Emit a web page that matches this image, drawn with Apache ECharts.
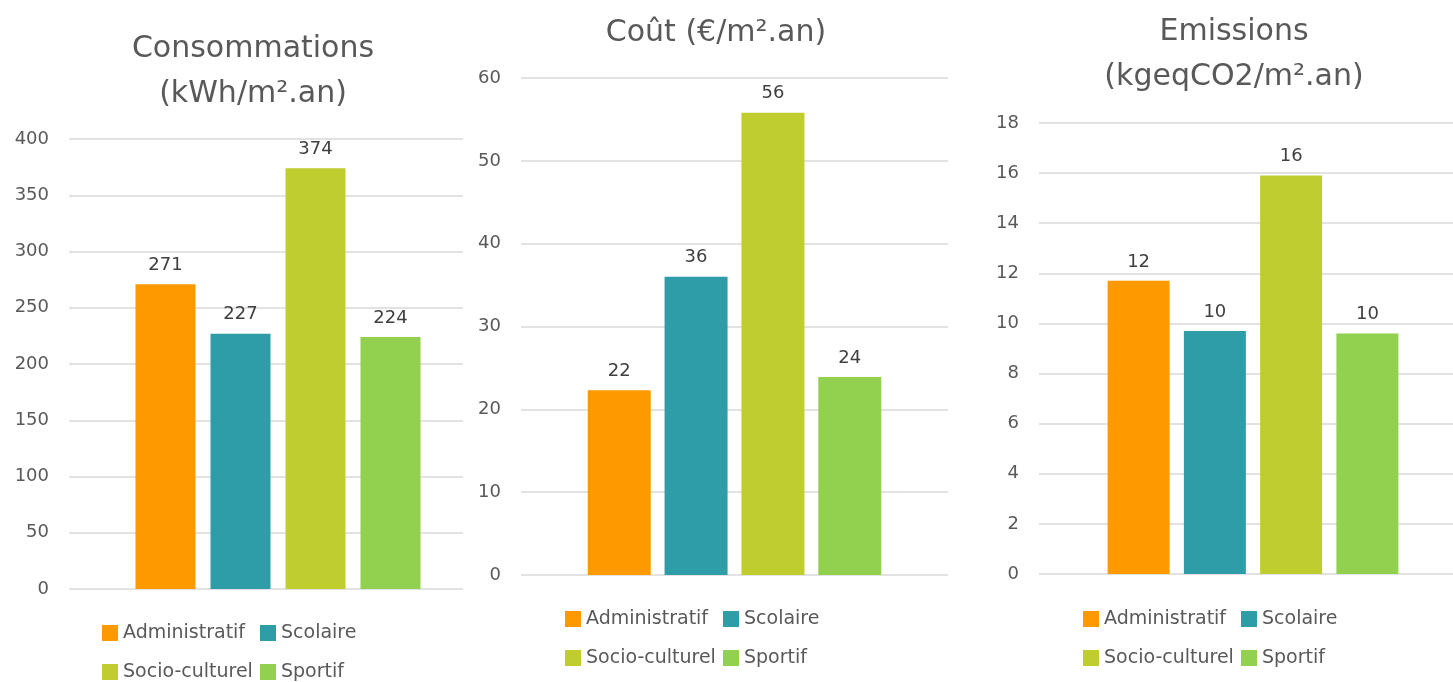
<!DOCTYPE html>
<html>
<head>
<meta charset="utf-8">
<script src="https://cdn.jsdelivr.net/npm/echarts@6/dist/echarts.min.js"></script>
<style>
  html, body { margin: 0; padding: 0; background: #fff; }
  #main { width: 1453px; height: 682px; }
</style>
</head>
<body>
<div id="main"></div>
<script>
// données
var typesBatiment = ['Administratif', 'Scolaire', 'Socio-culturel', 'Sportif'];
var couleurs = ['#FF9900', '#2E9DA7', '#C0CD2E', '#92D050'];
var consommations = [271, 227, 374, 224];   // kWh/m².an
var couts = [22.3, 36.0, 55.8, 23.9];        // €/m².an
var emissions = [11.7, 9.7, 15.9, 9.6];      // kgeqCO2/m².an
var titres = ['Consommations\n(kWh/m².an)', 'Coût (€/m².an)', 'Emissions\n(kgeqCO2/m².an)'];
var axeConso = { min: 0, max: 400, interval: 50 };
var axeCout = { min: 0, max: 60, interval: 10 };
var axeEmis = { min: 0, max: 18, interval: 2 };

var police = '"DejaVu Sans", sans-serif';
var gris = '#595959';

function axeY(gridIndex, cfg, visible) {
    return {
        type: 'value',
        gridIndex: gridIndex,
        min: cfg.min, max: cfg.max, interval: cfg.interval,
        show: visible,
        axisLine: { show: false },
        axisTick: { show: false },
        axisLabel: { color: gris, fontSize: 18, fontFamily: police, margin: 20 },
        splitLine: { show: visible, lineStyle: { color: '#D9D9D9', width: 1.5 } }
    };
}

function axeX(gridIndex) {
    return {
        type: 'category',
        gridIndex: gridIndex,
        data: [''],
        show: false
    };
}

function series(valeurs, axisIndex, largeur, ecart) {
    return typesBatiment.map(function (nom, i) {
        return {
            name: nom,
            type: 'bar',
            xAxisIndex: axisIndex,
            yAxisIndex: axisIndex,
            barWidth: largeur,
            barGap: ecart,
            itemStyle: { color: couleurs[i] },
            label: {
                show: true,
                position: 'top',
                distance: 10,
                color: '#404040',
                fontSize: 18,
                fontFamily: police,
                formatter: function (p) { return Math.round(p.value); }
            },
            data: [valeurs[i]]
        };
    });
}

// une légende par élément pour garder les colonnes alignées
function legendes(x, y) {
    var pos = [[0, 0], [158, 0], [0, 39], [158, 39]];
    return typesBatiment.map(function (nom, i) {
        return {
            left: x + pos[i][0],
            top: y + pos[i][1],
            padding: 0,
            icon: 'rect',
            itemWidth: 16,
            itemHeight: 16,
            selectedMode: false,
            textStyle: { color: gris, fontSize: 19, fontFamily: police, lineHeight: 20 },
            data: [nom]
        };
    });
}

function titre(texte, x, y) {
    return {
        text: texte,
        left: x,
        top: y,
        textAlign: 'center',
        textStyle: { color: gris, fontSize: 30, fontWeight: 'normal', fontFamily: police, lineHeight: 45 }
    };
}

var chart = echarts.init(document.getElementById('main'));
chart.setOption({
    backgroundColor: '#fff',
    animation: false,
    title: [
        titre(titres[0], 248, 22),
        titre(titres[1], 711, 6),
        titre(titres[2], 1229, 5)
    ],
    legend: [].concat(legendes(102, 623), legendes(565, 609), legendes(1083, 609)),
    grid: [
        { left: 69, top: 139, width: 394, height: 450 },   // lignes du graphe 1
        { left: 69, top: 139, width: 418, height: 450 },   // barres du graphe 1
        { left: 521, top: 78, width: 427, height: 497 },
        { left: 1039, top: 123, width: 414, height: 451 }, // lignes du graphe 3
        { left: 1053, top: 123, width: 400, height: 451 }  // barres du graphe 3
    ],
    xAxis: [axeX(0), axeX(1), axeX(2), axeX(3), axeX(4)],
    yAxis: [
        axeY(0, axeConso, true),
        axeY(1, axeConso, false),
        axeY(2, axeCout, true),
        axeY(3, axeEmis, true),
        axeY(4, axeEmis, false)
    ],
    series: [].concat(
        series(consommations, 1, 60, '25%'),
        series(couts, 2, 63, '22%'),
        series(emissions, 4, 62, '23%')
    )
});
</script>
</body>
</html>
